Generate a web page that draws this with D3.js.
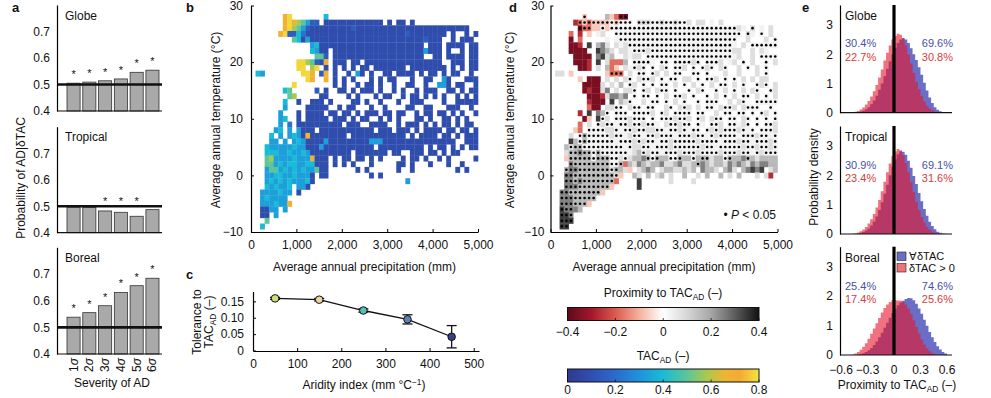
<!DOCTYPE html>
<html>
<head>
<meta charset="utf-8">
<script src="https://cdn.jsdelivr.net/npm/d3@7"></script>
<style>
body { margin: 0; background: #fff; }
text { font-family: "Liberation Sans", Arial, sans-serif; fill: #111; }
</style>
</head>
<body>
<svg id="fig" width="991" height="398"></svg>
<script>
// ---------- data ----------
const severity = ['1σ', '2σ', '3σ', '4σ', '5σ', '6σ'];
const globeProb = [0.505, 0.509, 0.514, 0.521, 0.546, 0.554];
const globeSig = [1, 1, 1, 1, 1, 1];
const tropicalProb = [0.496, 0.495, 0.482, 0.477, 0.462, 0.487];
const tropicalSig = [0, 0, 1, 1, 1, 0];
const borealProb = [0.538, 0.555, 0.581, 0.631, 0.656, 0.684];
const borealSig = [1, 1, 1, 1, 1, 1];

// panel c
const aridity = [50, 150, 250, 350, 450];
const tacAD = [0.159, 0.155, 0.122, 0.095, 0.042];
const tacErr = [0.003, 0.004, 0.005, 0.014, 0.034];

// panels b and d: rows from 28 °C down to -9 °C, columns of 100 mm from 0 mm
const gridTop = 28;
const bCodes = { '1': 0.09, '2': 0.15, '3': 0.22, '4': 0.33, '5': 0.4, '6': 0.5, '7': 0.58, '8': 0.68, '9': 0.78 };
const bGrid = [
  '.......89. ......5... .......... .......... ..........',
  '.......898 76422.1111 111111111. 1.11.1.... ..........',
  '.......897 6421111111 1121111111 1111111111 11111111..',
  '......8922 5311111111 1111111111 1111211111 111.1..1.1',
  '.........6 5141111111 1111111111 1111111121 11..1.111.',
  '.......... ...4511111 1111111111 11111111.1 11.1111.11',
  '.......... ...5411.11 1111111111 1111111141 11.1..1.11',
  '.......... ....662.11 1111111111 11111111.. 11.1111.11',
  '.......... 9976218.11 1.11.11111 1111111111 11..111.11',
  '.......... 99.79.1.1. 1.1.11.111 1111.11111 111.1.1.11',
  '.54....... .998.28.1. .1.41.1..1 1.1111.1.1 1.1.11..1.',
  '.......... ..98..8.1. 1.1...1.1. 11...1..11 ..41...111',
  '.........9 ........1. 1..1.11.1. .1..11..1. .441.11..1',
  '.......56. ....2.1..1 1.1.111.1. .1.1..1.11 1..11.1.11',
  '........67 .....11... .1.1...1.1 1..1.11.1. 1.1..1.1.1',
  '.......5.. 1..111.1.. ..11.1..1. ..1..111.. ..1..11111',
  '.......4.. ..11111..1 .11...1..1 ....11..11 ...111..1.',
  '......4... 1.1111.11. 11.1.111.1 1.11..1.11 .11.1.1..1',
  '......45.. 1.11111.11 1.1.11..1. 1.1...11.1 ..11.1.1..',
  '......4.3. 1111111111 .111..1111 ..1.111.1. 1.11.1.11.',
  '.....45.4. 4111.11111 1111111.11 1.111.1.11 11.11.11.1',
  '....5.4.45 4181111111 1.11111111 1111.1.111 1.11.1.111',
  '....44.4.4 5411114111 1111114441 1111111111 11111..111',
  '...5444445 4411141111 1111111.11 11111111.1 .11.1.1.11',
  '...5554454 4541111111 11.1111111 .11..111.1 1.1.11....',
  '...6744445 4448111.1. 11.11.1.1. ...1.11.1. .1.1.....1',
  '...6645455 4455111.1. 1.1...1... ..11.1...1 ...1..1...',
  '...4664545 4544611... ...1.1.... ..1..1.... .....1.1..',
  '...4455445 4441.11... ......1.1. .......... ..........',
  '...4545454 4451...... .......... ....4..... ..........',
  '...545445. 441....... .......... .......... ..........',
  '..4444544. 1......... .......... .......... ..........',
  '..454444.. .......... .......... .......... ..........',
  '..4445448. .......... .......... .......... ..........',
  '..1144.4.. .......... .......... .......... ..........',
  '..11.4.... .......... .......... .......... ..........',
  '...6...... .......... .......... .......... ..........',
  '..5....... .......... .......... .......... ..........'
];
// upper case = P < 0.05
const dCodes = { r: -0.36, q: -0.27, p: -0.18, o: -0.07, w: 0.03, x: 0.08, y: 0.16, z: 0.25, k: 0.34 };
const dGrid = [
  '.......O.. ..yopRR... .......... .......... ..........',
  '.....qPOPO OOOWOWWW.X XXWWXWWXWW x.xx.w.x.. ..........',
  '......RPPo oWoWWWWWWW WWWWWWWWWW WWWWWWWWWW Wxw.X.w.x.',
  '....p.q.o. wx..WWWWWW WWWWWWWWWW WWWWWWWWWW WW.Xw.W.x.',
  '....r.p... ..w.wWWWWW WWWWWWWWWW WWWWWWWWWW W..x...x.W',
  '....rrq.k. yzx.xwxWWW WWWWWWWWWW WWWWWWWWWW w.x.WWWWWW',
  '....rrrr.. kzyx.xxwWW WxWWWWWWWW WWWWWWWWWW xx..x.xw..',
  '.....rrrr. zkxy..xwxx .WWWWWWWWW WWWWWWWWWW wx..x.WWWW',
  '.....rrrq. k.xpppy.WW WWw.WW.WWW WxW.WWWx.w x.W.x..W.x',
  '......rrq. x.ypo.xwWx W.W.xW.WWx .W.WxW.xW. .x.W.x.W..',
  '.xx.o..... ..oPPP.x.W W.Wx.x.WW. .WW.W...x. .x...x.W..',
  '......o.rr r.x.x.xW.x WWx.W.WW.x x.W.WWx.W. W.x.x.xx..',
  '.......rrr rx.x.y.Wx. W.W.WW.x.W .x.W.x.WW. x.W..WxW.x',
  '.......rqr rxz.x.xxW. Wx.xWW.W.. W.xW..W.x. W.x.xW..Wx',
  '........rr rqxzzyz.W. WW.W.x.WWx .W..W.x.W. x.WW.x.W.x',
  '........qr rr.k.yxW.. x.WW.W.x.W ..W.WWW..x .xW..WWWWW',
  '........pr r.xxWW.xWW .WW..xW.xW x.x.WW.xWW x.xWWW..W.',
  '......q.k. zyW.WWW.WW WWx.Wx.WWW W.WW..x.WW .WW.W.Wx.W',
  '.......ro. kWx.WWWxWW W.W.WWWxWW x.Wx.xWW.W W.xW.W.W.W',
  '......p.x. WxWWwWWxWW xWWw.xWWxW W.Ww.WWx.W WwxW.W.WWx',
  '.....op.WW WWxxWwWWxW WxxWWwWWxW wWW.WxWxWW WxWwW.WWWx',
  '....x.WYWW WWWxWWwxWW wWWxWWWwWW WxWWwWxWWW WwWWWxWWwW',
  '....kyWYWW WWWWwWWWxW xWWwWWxWWW WWxWWWWwWW WxWWwWWWxW',
  '...yXYYWWW WWWWWWwWxx WWwWWWxWWW WWWxWWwWWW WWxWWxWWxW',
  '...xYYZYYW YWWWWWWwxy WxWWwWWWxW WWxWWWWxWW WxWWwWxWWW',
  '...oYYYYYW YYYWWxWxyy zYWYyyWWYy yWyYYxyyWY yyzYyxyyyy',
  '....ZYYYYY YYYWWYpyxz yxyyzxxyzx xyYzyxyyxz yzyxzyzzyy',
  '...YZZYYYY YYYXYyxo.x yzy.xyyxxy xy.zyyx.yz x.yzkzk.xy',
  '...ZZYYYYY YYYYXo..yx .y.xy.x..y ..x.y..y.x .y...x.xq.',
  '...ZZYZYYY YYYYp....k ......x... .x........ ..........',
  '...ZZZYYYY YYYo.....k .......... .......... ..........',
  '..ZZYYYYYY Yo........ .......... .......... ..........',
  '..ZZZYYYYY .......... .......... .......... ..........',
  '..ZZZYYYo. .......... .......... .......... ..........',
  '..KZZzy... .......... .......... .......... ..........',
  '..KKZ..... .......... .......... .......... ..........',
  '..KKK..... .......... .......... .......... ..........',
  '..KK...... .......... .......... .......... ..........'
];

// panel e: densities in 0.03 bins from -0.6 to 0.6
const globeAll = [0, 0, 0, 0, 0, 0.01, 0.02, 0.04, 0.07, 0.12, 0.19, 0.29, 0.42, 0.58, 0.78, 1.0, 1.25, 1.5, 1.76, 2.0, 2.22, 2.38, 2.5, 2.55, 2.5, 2.38, 2.2, 2.0, 1.8, 1.55, 1.3, 1.02, 0.76, 0.52, 0.33, 0.19, 0.1, 0.05, 0.02, 0.01];
const globePos = [0, 0, 0, 0, 0.01, 0.03, 0.06, 0.11, 0.18, 0.28, 0.4, 0.55, 0.73, 0.95, 1.2, 1.48, 1.78, 2.05, 2.3, 2.5, 2.62, 2.7, 2.66, 2.52, 2.3, 2.0, 1.68, 1.36, 1.06, 0.8, 0.57, 0.38, 0.24, 0.14, 0.08, 0.04, 0.02, 0.01, 0, 0];
const tropicalAll = [0, 0, 0, 0, 0, 0.01, 0.02, 0.04, 0.07, 0.12, 0.19, 0.29, 0.43, 0.6, 0.82, 1.08, 1.37, 1.68, 2.0, 2.3, 2.55, 2.72, 2.82, 2.8, 2.7, 2.5, 2.26, 1.98, 1.7, 1.4, 1.12, 0.85, 0.62, 0.42, 0.27, 0.16, 0.08, 0.04, 0.02, 0.01];
const tropicalPos = [0, 0, 0, 0, 0.01, 0.02, 0.05, 0.09, 0.15, 0.24, 0.36, 0.5, 0.68, 0.9, 1.16, 1.46, 1.78, 2.1, 2.4, 2.65, 2.82, 2.9, 2.85, 2.68, 2.42, 2.1, 1.76, 1.42, 1.1, 0.82, 0.58, 0.39, 0.25, 0.15, 0.08, 0.04, 0.02, 0.01, 0, 0];
const borealAll = [0, 0, 0, 0, 0, 0, 0.01, 0.03, 0.06, 0.1, 0.16, 0.24, 0.34, 0.46, 0.6, 0.76, 0.93, 1.1, 1.27, 1.43, 1.57, 1.69, 1.78, 1.84, 1.9, 1.94, 1.93, 1.86, 1.74, 1.58, 1.4, 1.2, 0.99, 0.78, 0.6, 0.44, 0.3, 0.19, 0.1, 0.05];
const borealPos = [0, 0, 0, 0, 0.02, 0.05, 0.1, 0.18, 0.28, 0.4, 0.55, 0.72, 0.9, 1.08, 1.26, 1.44, 1.6, 1.72, 1.8, 1.85, 1.86, 1.85, 1.84, 1.8, 1.72, 1.58, 1.4, 1.18, 0.95, 0.73, 0.53, 0.36, 0.23, 0.13, 0.07, 0.03, 0.01, 0, 0, 0];
const pctLeftAll = ['30.4%', '30.9%', '25.4%'];
const pctLeftPos = ['22.7%', '23.4%', '17.4%'];
const pctRightAll = ['69.6%', '69.1%', '74.6%'];
const pctRightPos = ['30.8%', '31.6%', '25.6%'];

const proxTicks = [-0.4, -0.2, 0, 0.2, 0.4];
const tacTicks = [0, 0.2, 0.4, 0.6, 0.8];

// ---------- colours ----------
const tacStops = [[0, '#2e3a8e'], [0.1, '#2f4fb0'], [0.2, '#2b6acd'], [0.3, '#1f93db'], [0.4, '#18bcd6'],
  [0.5, '#5cc59a'], [0.58, '#a8c84f'], [0.66, '#f0b432'], [0.72, '#f4aa34'], [0.8, '#f2e43c']];
const tacColor = d3.scaleLinear().domain(tacStops.map(d => d[0])).range(tacStops.map(d => d[1])).clamp(true);
const proxStops = [[-0.4, '#5e0a1c'], [-0.3, '#a3172b'], [-0.2, '#da5a4e'], [-0.1, '#f4b29c'], [0, '#ffffff'],
  [0.1, '#d6d6d6'], [0.2, '#a6a6a6'], [0.3, '#5c5c5c'], [0.4, '#111111']];
const proxColor = d3.scaleLinear().domain(proxStops.map(d => d[0])).range(proxStops.map(d => d[1])).clamp(true);
const blueHist = '#6b6ec6', redHist = 'rgb(230,20,40)';
const bluePct = '#4a4fa6', redPct = '#d63c3a';
const pointFill = ['#cfdc78', '#ecd3a6', '#5cbdb4', '#5f82b4', '#3a3f85'];

// ---------- helpers ----------
const svg = d3.select('#fig');
const FS = 12;

function rich(t, parts, fs) {
  parts.forEach(p => {
    const s = t.append('tspan').text(p[0]);
    if (p[1] === 'sub') s.attr('font-size', fs * 0.7).attr('dy', 3);
    if (p[1] === 'back') s.attr('dy', -3);
    if (p[1] === 'sup') s.attr('font-size', fs * 0.7).attr('dy', -4);
    if (p[1] === 'down') s.attr('dy', 4);
    if (p[1] === 'it') s.attr('font-style', 'italic');
  });
  return t;
}

function label(x, y, parts, opts = {}) {
  const fs = opts.size || FS;
  const t = svg.append('text').attr('x', x).attr('y', y).attr('font-size', fs)
    .attr('text-anchor', opts.anchor || 'start');
  if (opts.rotate) t.attr('transform', `rotate(-90,${x},${y})`);
  if (opts.bold) t.attr('font-weight', 'bold');
  if (opts.fill) t.style('fill', opts.fill);
  if (typeof parts === 'string') t.text(parts); else rich(t, parts, fs);
  return t;
}

function styleAxis(g) {
  g.attr('font-size', FS);
  g.select('.domain').attr('stroke-width', 1.2);
  g.selectAll('.tick line').attr('stroke-width', 1);
}

function hline(x1, x2, y, w) {
  svg.append('line').attr('x1', x1).attr('x2', x2).attr('y1', y).attr('y2', y)
    .attr('stroke', '#111').attr('stroke-width', w || 1.2);
}

const tacLabel = [['TAC'], ['AD', 'sub'], [' (–)', 'back']];

// ---------- panel a ----------
const aPanels = [
  { name: 'Globe', vals: globeProb, sig: globeSig, top: 5, bottom: 111, ty: 20 },
  { name: 'Tropical', vals: tropicalProb, sig: tropicalSig, top: 126.7, bottom: 232.7, ty: 141 },
  { name: 'Boreal', vals: borealProb, sig: borealSig, top: 247.3, bottom: 354, ty: 262 }
];
const ax = d3.scaleBand().domain(severity).range([67, 159]).paddingInner(0.17).paddingOuter(0);

aPanels.forEach(p => {
  const y = d3.scaleLinear().domain([0.4, 0.8]).range([p.bottom, p.top]);
  const g = svg.append('g');
  g.selectAll('rect').data(p.vals).join('rect')
    .attr('x', (d, i) => ax(severity[i])).attr('width', ax.bandwidth())
    .attr('y', d => y(d)).attr('height', d => y(0.4) - y(d))
    .attr('fill', '#a9a9a9').attr('stroke', '#333').attr('stroke-width', 0.8);
  const stars = p.vals.map((v, i) => ({ v, i, s: p.sig[i] })).filter(d => d.s);
  g.selectAll('text.star').data(stars).join('text').attr('class', 'star')
    .attr('x', d => ax(severity[d.i]) + ax.bandwidth() / 2)
    .attr('y', d => d.v > 0.5 ? y(d.v) - 5 : y(0.5) - 1)
    .attr('text-anchor', 'middle').attr('font-size', 11).text('*');
  hline(57, 162, y(0.5), 2.6);
  hline(57, 162, p.bottom, 1.2);
  svg.append('g').attr('transform', 'translate(57,0)')
    .call(d3.axisLeft(y).tickValues([0.4, 0.5, 0.6, 0.7]).tickSize(0).tickPadding(7).tickFormat(d3.format('.1f')))
    .call(styleAxis);
  label(65, p.ty, p.name);
});
severity.forEach(s => {
  label(ax(s) + ax.bandwidth() / 2 + 4, 358, [[s[0]], [s[1], 'it']], { rotate: true, anchor: 'end' });
});
label(112, 387, 'Severity of AD', { anchor: 'middle' });
label(25, 178, 'Probability of AD|δTAC', { rotate: true, anchor: 'middle' });
label(12, 12, 'a', { bold: true, size: 13 });

// ---------- panels b and d ----------
function parseGrid(rows, codes) {
  const out = [];
  rows.forEach((row, i) => {
    const s = row.replace(/ /g, '');
    for (let c = 0; c < s.length; c++) {
      const ch = s[c];
      if (ch === '.') continue;
      const lc = ch.toLowerCase();
      out.push({ p: c * 100, t: gridTop - i, v: codes[lc], sig: ch !== lc });
    }
  });
  return out;
}

function climatePanel(x0, x1, yLabelX, cells, color, pad) {
  const xs = d3.scaleLinear().domain([0, 5000]).range([x0, x1]);
  const ys = d3.scaleLinear().domain([-10, 30]).range([232, 5.5]);
  const w = xs(100) - xs(0), h = ys(-0.5) - ys(0.5);
  svg.append('g').selectAll('rect').data(cells).join('rect')
    .attr('x', d => xs(d.p)).attr('y', d => ys(d.t + 0.5))
    .attr('width', w + 0.3).attr('height', h + 0.3)
    .attr('fill', d => color(d.v));
  svg.append('g').selectAll('circle').data(cells.filter(d => d.sig)).join('circle')
    .attr('cx', d => xs(d.p) + w / 2).attr('cy', d => ys(d.t))
    .attr('r', 1.3).attr('fill', '#000');
  svg.append('g').attr('transform', `translate(${x0},0)`)
    .call(d3.axisLeft(ys).tickValues([-10, 0, 10, 20, 30]).tickSize(-3).tickSizeOuter(0).tickPadding(pad))
    .call(styleAxis);
  svg.append('g').attr('transform', 'translate(0,232)')
    .call(d3.axisBottom(xs).tickValues(d3.range(0, 5001, 1000)).tickFormat(d3.format(','))
      .tickSize(-3).tickSizeOuter(0).tickPadding(8))
    .call(styleAxis);
  label(yLabelX, 120, 'Average annual temperature (°C)', { rotate: true, anchor: 'middle' });
  label((x0 + x1) / 2, 271, 'Average annual precipitation (mm)', { anchor: 'middle' });
  return xs;
}

climatePanel(251, 478, 220, parseGrid(bGrid, bCodes), tacColor, 8);
label(186, 12, 'b', { bold: true, size: 13 });

climatePanel(550.5, 777.5, 514, parseGrid(dGrid, dCodes), proxColor, 6);
label(509, 12, 'd', { bold: true, size: 13 });
label(776, 219, [['• '], ['P', 'it'], [' < 0.05']], { anchor: 'end' });

// ---------- panel c ----------
const cx = d3.scaleLinear().domain([0, 512]).range([253, 479]);
const cy = d3.scaleLinear().domain([0, 0.18]).range([350.5, 291.5]);
const cPts = aridity.map((a, i) => ({ a, v: tacAD[i], e: tacErr[i], fill: pointFill[i] }));
svg.append('g').attr('transform', 'translate(253,0)')
  .call(d3.axisLeft(cy).tickValues([0, 0.05, 0.1, 0.15]).tickFormat(d => d === 0 ? '0' : d3.format('.2f')(d))
    .tickSize(-3).tickSizeOuter(0).tickPadding(9))
  .call(styleAxis);
svg.append('g').attr('transform', 'translate(0,351)')
  .call(d3.axisBottom(cx).tickValues(d3.range(0, 501, 100)).tickSize(-3).tickSizeOuter(0).tickPadding(8))
  .call(styleAxis);
svg.append('path').datum(cPts)
  .attr('d', d3.line().x(d => cx(d.a)).y(d => cy(d.v)))
  .attr('fill', 'none').attr('stroke', '#111').attr('stroke-width', 1.3);
const eb = svg.append('g').selectAll('g').data(cPts).join('g').attr('stroke', '#111').attr('stroke-width', 1.3);
eb.append('line').attr('x1', d => cx(d.a)).attr('x2', d => cx(d.a))
  .attr('y1', d => cy(d.v - d.e)).attr('y2', d => cy(d.v + d.e));
eb.append('line').attr('x1', d => cx(d.a) - 5).attr('x2', d => cx(d.a) + 5)
  .attr('y1', d => cy(d.v - d.e)).attr('y2', d => cy(d.v - d.e));
eb.append('line').attr('x1', d => cx(d.a) - 5).attr('x2', d => cx(d.a) + 5)
  .attr('y1', d => cy(d.v + d.e)).attr('y2', d => cy(d.v + d.e));
svg.append('g').selectAll('circle').data(cPts).join('circle')
  .attr('cx', d => cx(d.a)).attr('cy', d => cy(d.v)).attr('r', 3.8)
  .attr('fill', d => d.fill).attr('stroke', '#111').attr('stroke-width', 1);
label(364, 389, [['Aridity index (mm °C'], ['−1', 'sup'], [')', 'down']], { anchor: 'middle' });
label(201, 322, 'Tolerance to', { rotate: true, anchor: 'middle' });
label(213, 322, tacLabel, { rotate: true, anchor: 'middle' });
label(186, 279, 'c', { bold: true, size: 13 });

// ---------- colour bars ----------
const defs = svg.append('defs');
function colorBar(id, y0, domain, color, ticks, fmt, title, titleY, labelY) {
  const grad = defs.append('linearGradient').attr('id', id);
  d3.range(0, 1.0001, 0.025).forEach(t => {
    grad.append('stop').attr('offset', t).attr('stop-color', color(domain[0] + t * (domain[1] - domain[0])));
  });
  const s = d3.scaleLinear().domain(domain).range([567.5, 759]);
  svg.append('rect').attr('x', 567.5).attr('y', y0).attr('width', 191.5).attr('height', 13)
    .attr('fill', `url(#${id})`).attr('stroke', '#111').attr('stroke-width', 1);
  svg.append('g').selectAll('line').data(ticks).join('line')
    .attr('x1', d => s(d)).attr('x2', d => s(d)).attr('y1', y0 + 13).attr('y2', y0 + 10.5)
    .attr('stroke', '#111').attr('stroke-width', 0.8);
  svg.append('g').selectAll('text').data(ticks).join('text')
    .attr('x', d => s(d)).attr('y', labelY).attr('text-anchor', 'middle').attr('font-size', FS)
    .text(fmt);
  label(663, titleY, title, { anchor: 'middle' });
}
const signFmt = d => d === 0 ? '0' : d3.format('.1f')(d).replace('-', '−');
colorBar('proxGrad', 307.5, [-0.4, 0.4], proxColor, proxTicks, signFmt,
  [['Proximity to TAC'], ['AD', 'sub'], [' (–)', 'back']], 297, 336);
colorBar('tacGrad', 369, [0, 0.8], tacColor, tacTicks, signFmt, tacLabel, 359.5, 394);

// ---------- panel e ----------
const ex = d3.scaleLinear().domain([-0.6, 0.6]).range([841, 947]);
const ePanels = [
  { name: 'Globe', all: globeAll, pos: globePos, top: 5, bottom: 112.7, ty: 20, py: [47, 60.5] },
  { name: 'Tropical', all: tropicalAll, pos: tropicalPos, top: 126, bottom: 234, ty: 141, py: [169, 182] },
  { name: 'Boreal', all: borealAll, pos: borealPos, top: 246.7, bottom: 355, ty: 262, py: [290, 302.5] }
];
ePanels.forEach((p, k) => {
  const ey = d3.scaleLinear().domain([0, 3.68]).range([p.bottom, p.top]);
  const area = d3.area().curve(d3.curveStepAfter)
    .x(d => ex(d.x)).y0(ey(0)).y1(d => ey(d.y));
  const toPts = arr => arr.map((v, i) => ({ x: -0.6 + 0.03 * i, y: v })).concat([{ x: 0.6, y: 0 }]);
  svg.append('path').datum(toPts(p.all)).attr('d', area).attr('fill', blueHist);
  svg.append('path').datum(toPts(p.pos)).attr('d', area).attr('fill', redHist).attr('fill-opacity', 0.6);
  svg.append('line').attr('x1', ex(0)).attr('x2', ex(0)).attr('y1', p.top).attr('y2', p.bottom)
    .attr('stroke', '#000').attr('stroke-width', 3.2);
  hline(840, 952, p.bottom, 1.2);
  svg.append('g').attr('transform', 'translate(840,0)')
    .call(d3.axisLeft(ey).tickValues([0, 1, 2, 3]).tickFormat(d3.format('d'))
      .tickSize(0).tickSizeOuter(0).tickPadding(7))
    .call(styleAxis);
  label(845, p.ty, p.name);
  label(845, p.py[0], pctLeftAll[k], { fill: bluePct, size: 11 });
  label(845, p.py[1], pctLeftPos[k], { fill: redPct, size: 11 });
  label(953, p.py[0], pctRightAll[k], { fill: bluePct, size: 11, anchor: 'end' });
  label(953, p.py[1], pctRightPos[k], { fill: redPct, size: 11, anchor: 'end' });
});
svg.append('g').selectAll('text').data([-0.6, -0.3, 0, 0.3, 0.6]).join('text')
  .attr('x', d => ex(d)).attr('y', 374).attr('text-anchor', 'middle').attr('font-size', FS)
  .text(signFmt);
label(897, 389, [['Proximity to TAC'], ['AD', 'sub'], [' (–)', 'back']], { anchor: 'middle' });
label(818, 177, 'Probability density', { rotate: true, anchor: 'middle' });
label(802, 12, 'e', { bold: true, size: 13 });
// legend
svg.append('rect').attr('x', 897).attr('y', 252).attr('width', 9).attr('height', 8.5)
  .attr('fill', blueHist).attr('stroke', '#222').attr('stroke-width', 0.6);
svg.append('rect').attr('x', 897).attr('y', 263.5).attr('width', 9).attr('height', 8.5)
  .attr('fill', '#f0737a').attr('stroke', '#222').attr('stroke-width', 0.6);
label(909, 260, '∀δTAC', { size: 11 });
label(909, 271.5, 'δTAC > 0', { size: 11 });
</script>
</body>
</html>
